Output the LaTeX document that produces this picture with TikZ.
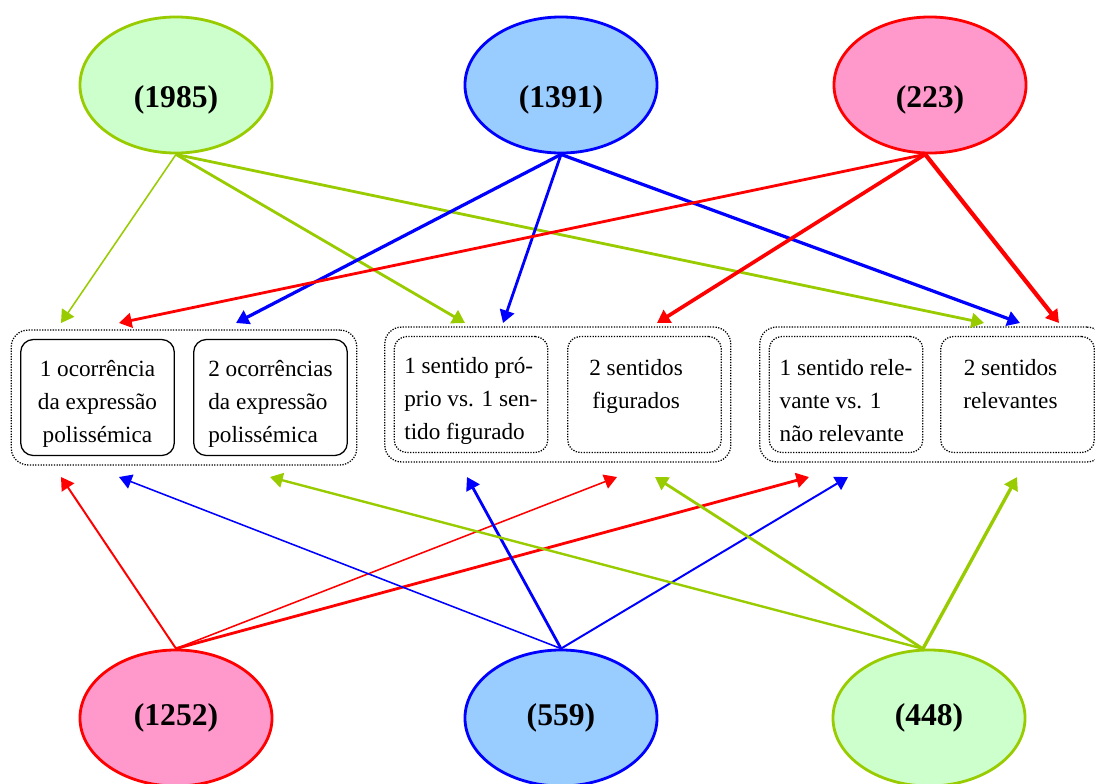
\documentclass[tikz,border=0pt]{standalone}
\usepackage{fontspec}
\setmainfont{Liberation Serif}
\usetikzlibrary{arrows.meta, positioning, fit, shapes.geometric}
\definecolor{leafgreen}{RGB}{153,204,0}
\definecolor{softgreen}{RGB}{204,255,204}
\definecolor{softblue}{RGB}{153,204,255}
\definecolor{softpink}{RGB}{255,153,204}

\begin{document}
\begin{tikzpicture}[
  x=0.025cm, y=-0.025cm,
  countell/.style 2 args={ellipse, draw=#1, fill=#2, line width=2pt, inner sep=0pt,
    minimum width=4.8cm, minimum height=3.4cm, font=\fontsize{22.5}{26}\selectfont\bfseries},
  numlabel/.style={font=\fontsize{22.5}{26}\selectfont\bfseries, inner sep=0pt},
  sensebox/.style={draw, rounded corners=9pt, line width=0.9pt, inner sep=0pt,
    minimum width=3.84cm, minimum height=2.9cm},
  boxtext/.style={align=center, inner sep=0pt, yshift=-4.3pt, solid,
    font=\fontsize{16.5}{23.5}\selectfont},
  sensegroup/.style={draw, densely dotted, rounded corners=12pt, line width=0.9pt, inner sep=0.22cm},
  arrowline/.style={-{Triangle[length=9pt,width=10.5pt]}, line width=#1}
]
\useasboundingbox (0,0) rectangle (1095,783);

% corpus counts, top row
\node[countell={leafgreen}{softgreen}] (n1985) at (176,85) {};
\node[numlabel] (l1985) at (176,100) {(1985)};
\node[countell={blue}{softblue}] (n1391) at (561,85) {};
\node[numlabel] (l1391) at (561,100) {(1391)};
\node[countell={red}{softpink}] (n223) at (930,85) {};
\node[numlabel] (l223) at (930,100) {(223)};

% corpus counts, bottom row
\node[countell={red}{softpink}] (n1252) at (176,718) {(1252)};
\node[countell={blue}{softblue}] (n559) at (561,718) {(559)};
\node[countell={leafgreen}{softgreen}] (n448) at (929,718) {(448)};

% categories
\node[sensebox, label={[boxtext]center:{1 ocorrência\\da expressão\\polissémica}}] (g1a) at (97.5,397.5) {};
\node[sensebox, label={[boxtext, align=left]center:{2 ocorrências\\da expressão\\polissémica}}] (g1b) at (270.5,397.5) {};
\node[sensebox, densely dotted, label={[boxtext, align=left]center:{1 sentido pró-\\prio vs. 1 sen-\\tido figurado}}] (g2a) at (471,394.5) {};
\node[sensebox, densely dotted, label={[boxtext, xshift=-6pt]center:{2 sentidos\\figurados\\\mbox{}}}] (g2b) at (644.5,394.5) {};
\node[sensebox, densely dotted, label={[boxtext, align=left]center:{1 sentido rele-\\vante vs. 1\\não relevante}}] (g3a) at (846,394.5) {};
\node[sensebox, densely dotted, label={[boxtext, xshift=-5pt]center:{2 sentidos\\relevantes\\\mbox{}}}] (g3b) at (1017.5,394.5) {};
\node[sensegroup, fit=(g1a)(g1b)] (grp1) {};
\node[sensegroup, fit=(g2a)(g2b)] (grp2) {};
\node[sensegroup, fit=(g3a)(g3b)] (grp3) {};

% arrow tips above and below the categories
\coordinate (t1) at (61,323);
\coordinate (t2) at (119,323);
\coordinate (t3) at (236,323);
\coordinate (t4) at (465,323);
\coordinate (t5) at (503,323);
\coordinate (t6) at (657,323);
\coordinate (t7) at (984,323);
\coordinate (t8) at (1020,323);
\coordinate (t9) at (1059,323);
\coordinate (b1) at (61,477);
\coordinate (b2) at (119,477);
\coordinate (b3) at (270,477);
\coordinate (b4) at (467,477);
\coordinate (b5) at (617,477);
\coordinate (b6) at (655,477);
\coordinate (b7) at (809,477);
\coordinate (b8) at (848,477);
\coordinate (b9) at (1017,477);

\draw[arrowline=1.1pt, leafgreen] (n1985.south) -- (t1);
\draw[arrowline=2pt, leafgreen] (n1985.south) -- (t4);
\draw[arrowline=2pt, leafgreen] (n1985.south) -- (t7);
\draw[arrowline=2.3pt, blue] (n1391.south) -- (t3);
\draw[arrowline=2pt, blue] (n1391.south) -- (t5);
\draw[arrowline=2.3pt, blue] (n1391.south) -- (t8);
\draw[arrowline=2pt, red] (n223.266) -- (t2);
\draw[arrowline=2.6pt, red] (n223.266) -- (t6);
\draw[arrowline=3pt, red] (n223.266) -- (t9);

\draw[arrowline=1.4pt, red] (n1252.north) -- (b1);
\draw[arrowline=1.1pt, red] (n1252.north) -- (b5);
\draw[arrowline=2pt, red] (n1252.north) -- (b7);
\draw[arrowline=1.1pt, blue] (n559.north) -- (b2);
\draw[arrowline=2pt, blue] (n559.north) -- (b4);
\draw[arrowline=1.4pt, blue] (n559.north) -- (b8);
\draw[arrowline=1.7pt, leafgreen] (n448.95) -- (b3);
\draw[arrowline=2pt, leafgreen] (n448.95) -- (b6);
\draw[arrowline=2.4pt, leafgreen] (n448.95) -- (b9);
\end{tikzpicture}
\end{document}
